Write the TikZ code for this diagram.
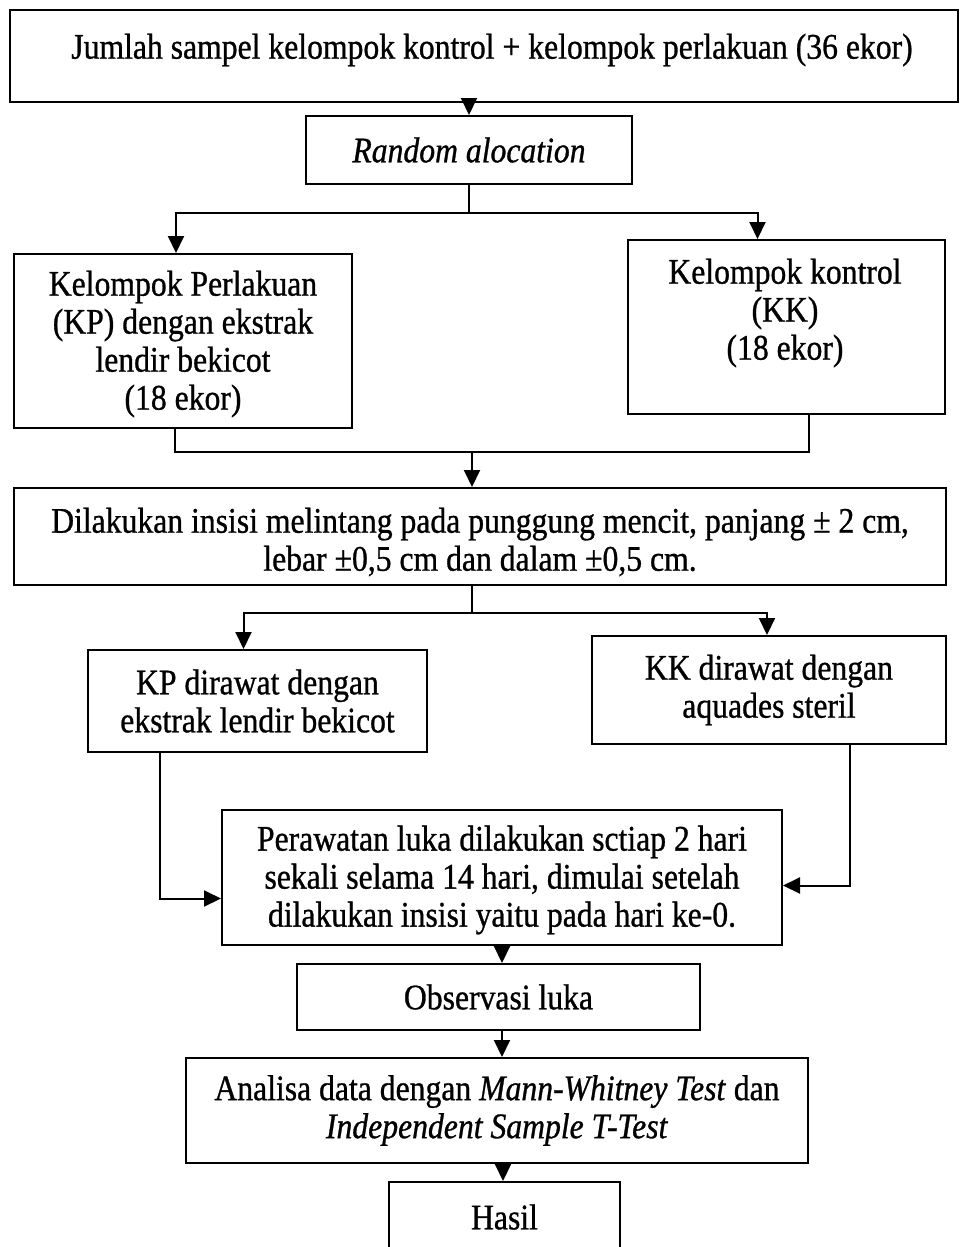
\documentclass[tikz,border=0pt]{standalone}
\usepackage{fontspec}
\setmainfont{Liberation Serif}[FakeStretch=0.88,FakeBold=0.8]
\usetikzlibrary{arrows.meta}
\newcommand{\fs}{\fontsize{36}{38}\selectfont}
\begin{document}
\begin{tikzpicture}[x=1pt,y=-1pt,
  box/.style={draw,line width=2pt,inner sep=0pt,align=center,font=\fs},
  txt/.style={inner sep=0pt,align=center,font=\fs},
  ln/.style={line width=2pt},
  arr/.style={line width=2pt,-{Triangle[length=17pt,width=16pt]}}]
\useasboundingbox (0,0) rectangle (967,1247);
\clip (0,0) rectangle (967,1247);
\fill[white] (0,0) rectangle (967,1247);
% boxes
\node[box,minimum width=948pt,minimum height=92pt] (b1) at (484,56) {};
\node[txt] (t1) at (492,50) {Jumlah sampel kelompok kontrol + kelompok perlakuan (36 ekor)};
\node[box,minimum width=326pt,minimum height=68pt] (b2) at (469,150) {\itshape Random alocation};
\node[box,minimum width=338pt,minimum height=174pt] (b3) at (183,341) {};
\node[txt] (t3) at (183,344) {Kelompok Perlakuan\\(KP) dengan ekstrak\\lendir bekicot\\(18 ekor)};
\node[box,minimum width=317pt,minimum height=174pt] (b4) at (786.5,327) {};
\node[txt] (t4) at (785,313) {Kelompok kontrol\\(KK)\\(18 ekor)};
\node[box,minimum width=932pt,minimum height=97pt] (b5) at (480,536.5) {};
\node[txt] (t5) at (480,542) {Dilakukan insisi melintang pada punggung mencit, panjang ± 2 cm,\\lebar ±0,5 cm dan dalam ±0,5 cm.};
\node[box,minimum width=339pt,minimum height=102pt] (b6) at (257.5,701) {KP dirawat dengan\\ekstrak lendir bekicot};
\node[box,minimum width=354pt,minimum height=108pt] (b7) at (769,690) {KK dirawat dengan\\aquades steril};
\node[box,minimum width=560pt,minimum height=135pt] (b8) at (502,877.5) {};
\node[txt] (t8) at (502,880) {Perawatan luka dilakukan sctiap 2 hari\\sekali selama 14 hari, dimulai setelah\\dilakukan insisi yaitu pada hari ke-0.};
\node[box,minimum width=403pt,minimum height=66pt] (b9) at (498.5,997) {Observasi luka};
\node[box,minimum width=622pt,minimum height=105pt] (b10) at (497,1110.5) {Analisa data dengan \textit{Mann-Whitney Test} dan\\\textit{Independent Sample T-Test}};
\node[box,minimum width=231pt,minimum height=70pt] (b11) at (504.5,1217) {Hasil};
% connectors
\draw[arr] (b2.north |- b1.south) -- (b2.north);
\coordinate (j1) at (469,213);
\draw[ln] (b2.south) -- (j1);
\draw[arr] (j1) -| ([xshift=-7pt]b3.north);
\draw[arr] (j1) -| ([xshift=-29pt]b4.north);
\coordinate (j2) at (472,452);
\draw[ln] ([xshift=-8pt]b3.south) |- (j2) -| ([xshift=22pt]b4.south);
\draw[arr] (j2) -- (j2 |- b5.north);
\coordinate (j3) at (472,613);
\draw[ln] ([xshift=-8pt]b5.south) -- (j3);
\draw[arr] (j3) -| ([xshift=-14pt]b6.north);
\draw[arr] (j3) -| ([xshift=-2pt]b7.north);
\draw[arr] ([xshift=-98pt]b6.south) |- ([yshift=-21pt]b8.west);
\draw[arr] ([xshift=81pt]b7.south) |- ([yshift=-8pt]b8.east);
\draw[arr] (b8.south) -- (b8.south |- b9.north);
\coordinate (a9) at ([xshift=3.5pt]b9.south);
\draw[arr] (a9) -- (a9 |- b10.north);
\coordinate (a10) at ([xshift=6pt]b10.south);
\draw[arr] (a10) -- (a10 |- b11.north);
\end{tikzpicture}
\end{document}
